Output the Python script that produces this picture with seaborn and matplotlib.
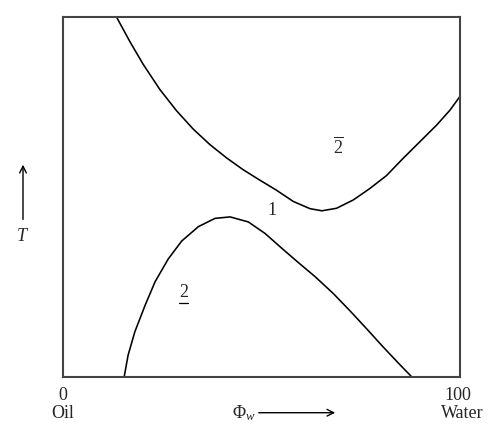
import numpy as np
import pandas as pd
import matplotlib
matplotlib.use("Agg")
import matplotlib.pyplot as plt
import seaborn as sns

# upper boundary (phase 2-bar / 1)
upper_x = [13.5, 16.9, 20.2, 24.4, 28.6, 32.8, 37.0, 41.2, 45.4, 49.6, 53.8, 58.0,
           62.2, 65.2, 68.9, 73.1, 77.3, 81.5, 85.7, 89.9, 94.1, 97.5, 100.0]
upper_y = [100.0, 93.1, 86.9, 79.9, 74.0, 68.9, 64.6, 60.9, 57.6, 54.7, 51.9, 48.8,
           46.8, 46.2, 46.9, 49.2, 52.4, 56.0, 60.8, 65.4, 70.0, 74.2, 78.0]

# lower boundary (phase 2 / 1)
lower_x = [15.4, 16.4, 18.1, 20.7, 23.2, 26.5, 29.9, 34.1, 38.3, 42.1, 46.7, 50.9,
           55.1, 59.3, 63.5, 68.1, 72.3, 76.5, 80.7, 84.9, 87.9]
lower_y = [0.0, 6.1, 12.6, 20.0, 26.5, 32.8, 37.8, 41.8, 44.1, 44.5, 43.1, 39.9,
           35.8, 31.8, 27.9, 23.2, 18.4, 13.4, 8.3, 3.4, 0.0]

up = pd.DataFrame({"phi": upper_x, "T": upper_y})
lo = pd.DataFrame({"phi": lower_x, "T": lower_y})

sns.set_theme(style="white")
plt.rcParams["font.family"] = ["Liberation Serif", "DejaVu Serif"]
plt.rcParams["mathtext.fontset"] = "custom"
plt.rcParams["mathtext.rm"] = "Liberation Serif"
plt.rcParams["mathtext.it"] = "Liberation Serif:italic"

fig = plt.figure(figsize=(5, 4.4), dpi=100)
ax = fig.add_axes([0.126, 0.143, 0.794, 0.818])

sns.lineplot(data=up, x="phi", y="T", ax=ax, color="black", lw=1.15, estimator=None, sort=False)
sns.lineplot(data=lo, x="phi", y="T", ax=ax, color="black", lw=1.15, estimator=None, sort=False)

ax.set_xlim(0, 100)
ax.set_ylim(0, 100)
ax.set_xticks([])
ax.set_yticks([])
ax.set_xlabel("")
ax.set_ylabel("")
for s in ax.spines.values():
    s.set_color("#444444")
    s.set_linewidth(1.5)

# phase labels
fs = 13
ax.text(69.3, 63.9, r"$\overline{\mathrm{2}}$", fontsize=fs, ha="center", va="center")
ax.text(52.6, 46.4, "1", fontsize=fs, ha="center", va="center")
ax.text(30.3, 23.4, "2", fontsize=fs, ha="center", va="center")
ax.plot([29.1, 31.5], [20.6, 20.6], color="black", lw=0.9)

# axis annotations (figure coords)
fig.text(0.126, 0.102, "0", fontsize=fs, ha="center", va="center")
fig.text(0.126, 0.060, "Oil", fontsize=fs, ha="center", va="center")
fig.text(0.916, 0.102, "100", fontsize=fs, ha="center", va="center")
fig.text(0.924, 0.060, "Water", fontsize=fs, ha="center", va="center")
fig.text(0.488, 0.062, r"$\Phi_{w}$", fontsize=fs, ha="center", va="center")
fig.add_artist(matplotlib.patches.FancyArrowPatch((0.512, 0.062), (0.676, 0.062),
               transform=fig.transFigure, arrowstyle="->", mutation_scale=12,
               color="black", lw=1.0))
fig.text(0.046, 0.462, "$T$", fontsize=fs, ha="center", va="center")
fig.add_artist(matplotlib.patches.FancyArrowPatch((0.046, 0.495), (0.046, 0.632),
               transform=fig.transFigure, arrowstyle="->", mutation_scale=12,
               color="black", lw=1.0))

fig.savefig("out.png", dpi=100)
